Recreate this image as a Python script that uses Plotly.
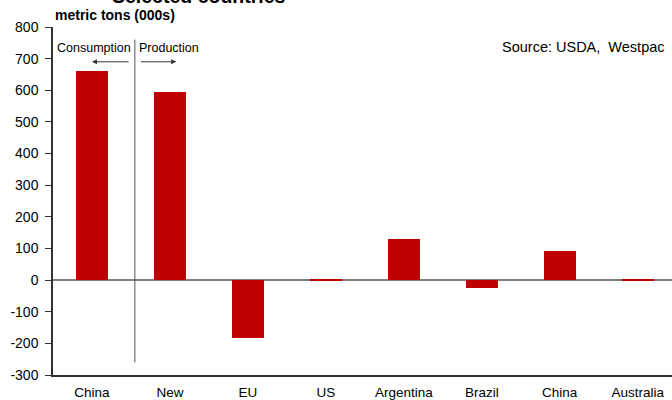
import plotly.graph_objects as go

categories = ["China", "New<br>Zealand", "EU", "US", "Argentina", "Brazil", "China", "Australia"]
values = [660, 594, -183, 3, 130, -25, 92, 3]
y_ticks = [-300, -200, -100, 0, 100, 200, 300, 400, 500, 600, 700, 800]
y_tick_text = [str(v) for v in y_ticks]

x_idx = list(range(len(categories)))

fig = go.Figure()
fig.add_trace(go.Bar(x=x_idx, y=values, width=0.41, marker=dict(color="#C00000", line=dict(width=0))))

# divider line between consumption and production
fig.add_shape(type="line", xref="x", yref="y", x0=0.55, x1=0.55, y0=-260, y1=760,
              line=dict(color="#555555", width=1))

# arrows
fig.add_annotation(x=0.0, y=690, ax=0.49, ay=690, xref="x", yref="y", axref="x", ayref="y",
                   text="", showarrow=True, arrowhead=2, arrowsize=1, arrowwidth=1, arrowcolor="#333333")
fig.add_annotation(x=1.08, y=690, ax=0.61, ay=690, xref="x", yref="y", axref="x", ayref="y",
                   text="", showarrow=True, arrowhead=2, arrowsize=1, arrowwidth=1, arrowcolor="#333333")

fig.add_annotation(x=0.52, y=735, xref="x", yref="y", text="Consumption", showarrow=False,
                   xanchor="right", font=dict(size=12.5, color="black"))
fig.add_annotation(x=0.58, y=735, xref="x", yref="y", text="Production", showarrow=False,
                   xanchor="left", font=dict(size=12.5, color="black"))

fig.add_annotation(x=0.992, y=0.9425, xref="paper", yref="paper", text="Source: USDA,  Westpac", showarrow=False,
                   xanchor="right", yanchor="middle", font=dict(size=14.5, color="black"))

fig.update_layout(
    width=672, height=400,
    margin=dict(l=53, r=0, t=27, b=25),
    paper_bgcolor="white", plot_bgcolor="white",
    font=dict(family="Liberation Sans, Arial, sans-serif", size=13, color="black"),
    showlegend=False,
    bargap=0,
)

fig.add_annotation(xref="paper", yref="paper", x=0.0, y=1.0, yshift=12, xanchor="left", yanchor="middle",
                   text="<b>metric tons (000s)</b>", showarrow=False, font=dict(size=14, color="black"))
fig.add_annotation(xref="paper", yref="paper", x=(110 - 53) / 619, y=1.0, yshift=31, xanchor="left", yanchor="middle",
                   text="<b>Selected countries</b>", showarrow=False, font=dict(size=19.5, color="black"))

fig.update_xaxes(range=[-0.5, 7.44], tickmode="array", tickvals=x_idx, ticktext=categories,
                 showgrid=False, showline=True, linecolor="#333333", linewidth=1.5,
                 ticks="", zeroline=False, tickfont=dict(size=13.5), automargin=False,
                 ticklabelstandoff=4)
fig.update_yaxes(range=[-300, 800], tickmode="array", tickvals=y_ticks, ticktext=y_tick_text,
                 showgrid=False, showline=True, linecolor="#333333", linewidth=1.5,
                 ticks="outside", ticklen=6, tickcolor="#333333",
                 zeroline=True, zerolinecolor="#808080", zerolinewidth=1.5, tickfont=dict(size=14),
                 automargin=False, ticklabelstandoff=4)

fig.write_html("out.html")
